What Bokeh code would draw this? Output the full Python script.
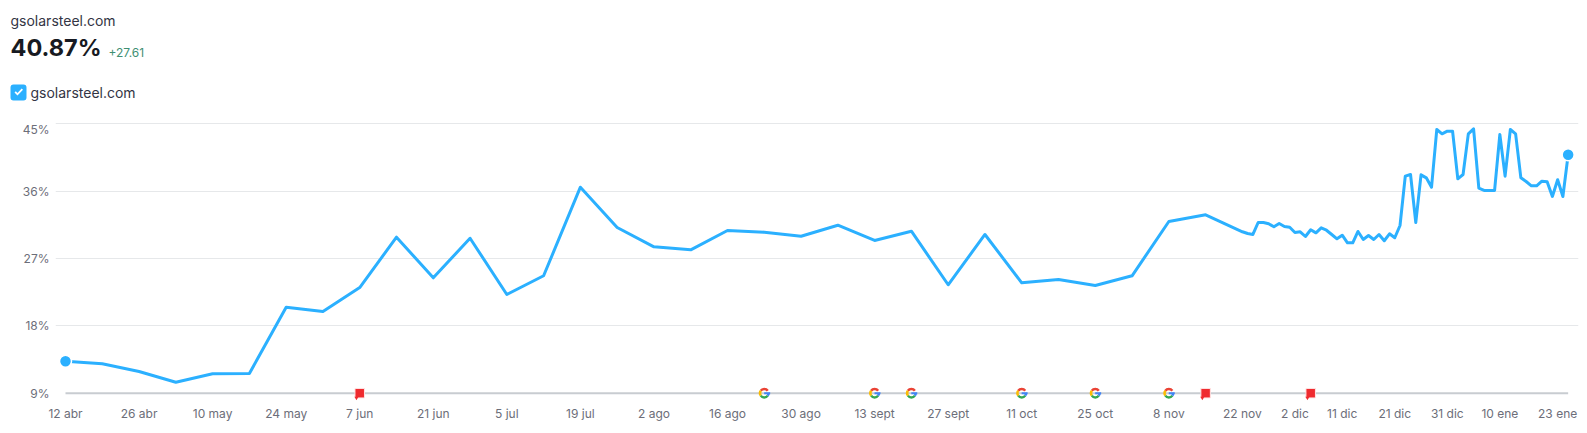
from bokeh.plotting import figure
from bokeh.embed import file_html
from bokeh.layouts import column
from bokeh.resources import INLINE
from bokeh.models import (Range1d, FixedTicker, Label, BoxAnnotation, PolyAnnotation, ColumnDataSource)

FONT = "Inter"
DOMAIN = "gsolarsteel.com"
HEADLINE = "40.87%"
DELTA = "+27.61"

days = list(range(0, 225, 7)) + [225] + list(range(226, 287))
share = [
    13.28, 12.93, 11.90, 10.47, 11.59, 11.63, 20.49, 19.92, 23.12, 29.85, 24.42,
    29.71, 22.19, 24.69, 36.53, 31.14, 28.56, 28.16, 30.74, 30.51, 29.98, 31.45,
    29.41, 30.65, 23.49, 30.21, 23.75, 24.19, 23.39, 24.69, 31.94, 32.84, 30.57,
    30.34,
    30.21, 31.81, 31.81, 31.64, 31.24, 31.68, 31.28, 31.18, 30.47, 30.57,
    29.94, 30.84, 30.43, 31.10, 30.78, 30.21, 29.63, 30.11, 29.10, 29.10,
    30.61, 29.54, 30.07, 29.54, 30.21, 29.37, 30.30, 29.77, 31.41, 38.00,
    38.22, 31.81, 38.18, 37.78, 36.53, 44.24, 43.66, 44.01, 44.01, 37.65,
    38.22, 43.66, 44.33, 36.39, 36.09, 36.09, 36.09, 43.57, 38.00, 44.24,
    43.66, 37.78, 37.29, 36.71, 36.71, 37.33, 37.25, 35.29, 37.52, 35.29, 40.87,
]

x_tick_days = [0, 14, 28, 42, 56, 70, 84, 98, 112, 126, 140, 154, 168, 182, 196, 210, 224,
               234, 243, 253, 263, 273, 284]
x_tick_labels = ["12 abr", "26 abr", "10 may", "24 may", "7 jun", "21 jun", "5 jul", "19 jul",
                 "2 ago", "16 ago", "30 ago", "13 sept", "27 sept", "11 oct", "25 oct", "8 nov",
                 "22 nov", "2 dic", "11 dic", "21 dic", "31 dic", "10 ene", "23 ene"]
y_grid_values = [18, 27, 36, 45]
y_tick_values = [9, 18, 27, 36, 44.3]
y_tick_labels = ["9%", "18%", "27%", "36%", "45%"]

google_days = [133, 154, 161, 182, 196, 210]
note_days = [56, 217, 237]
BASE = 9

LINE_BLUE = "#2bb0ff"
W, HEAD_H, PLOT_H = 1579, 115, 310

# header strip: its own figure, whose data units are page pixels
h = figure(width=W, height=HEAD_H, output_backend="svg", toolbar_location=None,
           x_range=Range1d(0, W), y_range=Range1d(HEAD_H, 0),
           min_border=0, outline_line_color=None, background_fill_color="white",
           border_fill_color="white")
h.axis.visible = False
h.grid.visible = False
h.frame_align = False


def text(x, y, s, size, color, style="normal"):
    h.add_layout(Label(x=x, y=y, text=s, text_font=FONT, text_font_size=size, text_color=color,
                       text_font_style=style, text_baseline="middle", text_align="left"))


text(10, 20, DOMAIN, "14px", "#333544")
text(10, 47, HEADLINE, "23.5px", "#171a22", "bold")
text(108, 52, DELTA, "12px", "#3f8f73")
text(30, 92, DOMAIN, "14px", "#333544")

h.add_layout(BoxAnnotation(left=10, right=26, top=84, bottom=100,
                           fill_color=LINE_BLUE, fill_alpha=1, line_color=None, border_radius=3))
h.add_layout(PolyAnnotation(xs=[14, 15.3, 17, 21.2, 22.5, 17, 14],
                            ys=[92, 90.7, 92.5, 88, 89.2, 95, 92],
                            fill_color="white", fill_alpha=1, line_color=None))

p = figure(width=W, height=PLOT_H, output_backend="svg", toolbar_location=None,
           x_range=Range1d(-1.903, 287.97), y_range=Range1d(8.024, 46.109),
           min_border_left=55, min_border_right=1, min_border_top=0, min_border_bottom=25,
           outline_line_color=None, background_fill_color="white", border_fill_color="white")
p.frame_align = False

p.xgrid.visible = False
p.ygrid.ticker = FixedTicker(ticks=y_grid_values)
p.ygrid.grid_line_color = "#e6e8ea"
p.ygrid.grid_line_width = 1
p.ygrid.bounds = (0, 286)

for ax in (p.xaxis[0], p.yaxis[0]):
    ax.axis_line_color = None
    ax.major_tick_line_color = None
    ax.minor_tick_line_color = None
    ax.major_tick_in = 0
    ax.major_tick_out = 0
    ax.major_label_text_font = FONT
    ax.major_label_text_font_size = "12px"
    ax.major_label_text_color = "#6c6e79"

p.xaxis[0].ticker = FixedTicker(ticks=x_tick_days)
p.xaxis[0].major_label_overrides = dict(zip(x_tick_days, x_tick_labels))
p.xaxis[0].major_label_standoff = 5
p.yaxis[0].ticker = FixedTicker(ticks=y_tick_values)
p.yaxis[0].major_label_overrides = dict(zip(y_tick_values, y_tick_labels))
p.yaxis[0].major_label_standoff = 6

# baseline
p.segment(x0=[days[0]], x1=[days[-1]], y0=[BASE], y1=[BASE], line_color="#c8ccd1", line_width=2)

# series
p.line(days, share, line_color=LINE_BLUE, line_width=3, line_join="round")
p.scatter([days[0], days[-1]], [share[0], share[-1]], size=12, fill_color=LINE_BLUE,
          line_color="white", line_width=1.5)

# google markers: four-colour ring and bar, placed on the baseline
g = ColumnDataSource(dict(x=google_days, y=[BASE] * len(google_days)))
for start, end, col in [(35, 145, "#ea4335"), (145, 215, "#fbbc05"),
                        (215, 325, "#34a853"), (325, 365, "#4285f4")]:
    p.annular_wedge(x="x", y="y", source=g, inner_radius=3, outer_radius=5.5,
                    inner_radius_units="screen", outer_radius_units="screen",
                    start_angle=start, end_angle=end, start_angle_units="deg", end_angle_units="deg",
                    fill_color=col, line_color=None)
p.scatter([d + 0.55 for d in google_days], [BASE] * len(google_days), marker="dash", size=6,
          line_color="#4285f4", line_width=2)

# note flags
p.scatter(note_days, [BASE] * len(note_days), marker="square", size=9.5,
          fill_color="#ef2b2f", line_color="#ffe4e4", line_width=1)
p.scatter([d - 0.62 for d in note_days], [BASE - 0.62] * len(note_days), marker="inverted_triangle",
          size=4, fill_color="#ef2b2f", line_color=None)

page = column(h, p, spacing=0)
open("out.html", "w").write(file_html(page, INLINE))
